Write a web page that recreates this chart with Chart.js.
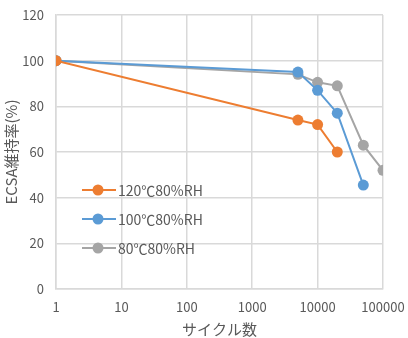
<!DOCTYPE html>
<html>
<head>
<meta charset="utf-8">
<script src="https://cdn.jsdelivr.net/npm/chart.js@4/dist/chart.umd.min.js"></script>
<style>
  html, body { margin: 0; padding: 0; background: #fff; }
  #wrap { width: 408px; height: 338px; }
</style>
</head>
<body>
<div id="wrap"><canvas id="chart" width="408" height="338"></canvas></div>
<script>
const seriesNames = ['120℃80%RH', '100℃80%RH', '80℃80%RH'];
const cycles120 = [1, 5000, 10000, 20000];
const ecsa120 = [100, 74, 72, 60];
const cycles100 = [1, 5000, 10000, 20000, 50000];
const ecsa100 = [100, 95, 87, 77, 45.5];
const cycles80 = [1, 5000, 10000, 20000, 50000, 100000];
const ecsa80 = [100, 94, 90.5, 89, 63, 52];
const xTicks = [1, 10, 100, 1000, 10000, 100000];

const COLORS = ['#ED7D31', '#5B9BD5', '#A5A5A5'];
const FONT = "'Noto Sans CJK JP', 'Noto Sans', sans-serif";

const toPoints = (xs, ys) => xs.map((x, i) => ({ x, y: ys[i] }));

const makeSet = (label, pts, color) => ({
  label,
  data: pts,
  borderColor: color,
  backgroundColor: color,
  borderWidth: 2,
  pointRadius: 5.5,
  pointHoverRadius: 5.5,
  pointBorderWidth: 0,
});

// legend sits inside the plot area, drawn by hand
const insideLegend = {
  id: 'insideLegend',
  afterDraw(chart) {
    const { ctx, chartArea } = chart;
    const rows = [175, 204, 233];
    ctx.save();
    ctx.font = `14px ${FONT}`;
    ctx.textBaseline = 'middle';
    chart.data.datasets.forEach((ds, i) => {
      const y = chartArea.top + rows[i];
      const x0 = chartArea.left + 26;
      ctx.strokeStyle = ds.borderColor;
      ctx.lineWidth = 2;
      ctx.beginPath();
      ctx.moveTo(x0, y);
      ctx.lineTo(x0 + 34, y);
      ctx.stroke();
      ctx.fillStyle = ds.borderColor;
      ctx.beginPath();
      ctx.arc(x0 + 16, y, 5.5, 0, Math.PI * 2);
      ctx.fill();
      ctx.fillStyle = '#595959';
      ctx.fillText(ds.label, x0 + 36, y + 1);
    });
    ctx.restore();
  },
};

const ctx = document.getElementById('chart').getContext('2d');

new Chart(ctx, {
  type: 'line',
  data: {
    datasets: [
      makeSet(seriesNames[0], toPoints(cycles120, ecsa120), COLORS[0]),
      makeSet(seriesNames[1], toPoints(cycles100, ecsa100), COLORS[1]),
      makeSet(seriesNames[2], toPoints(cycles80, ecsa80), COLORS[2]),
    ],
  },
  options: {
    responsive: false,
    animation: false,
    layout: {
      padding: { left: 2, right: 25, top: 15, bottom: 0 },
    },
    plugins: {
      legend: { display: false },
      tooltip: { enabled: false },
    },
    scales: {
      x: {
        type: 'logarithmic',
        min: 1,
        max: 100000,
        afterBuildTicks(scale) {
          scale.ticks = xTicks.map((v) => ({ value: v }));
        },
        afterFit(scale) {
          scale.height = 49;
          scale.paddingLeft = 0;
          scale.paddingRight = 0;
        },
        ticks: {
          color: '#595959',
          font: { family: FONT, size: 13 },
          padding: 10,
          maxRotation: 0,
          autoSkip: false,
          callback: (v) => String(v),
        },
        grid: { color: '#D9D9D9', lineWidth: 1.5, drawTicks: false },
        border: { color: '#D9D9D9', width: 1.5 },
        title: {
          display: true,
          text: 'サイクル数',
          color: '#595959',
          font: { family: FONT, size: 15 },
          padding: { top: 2, bottom: 0 },
        },
      },
      y: {
        min: 0,
        max: 120,
        afterFit(scale) {
          scale.width = 54;
          scale.paddingTop = 0;
          scale.paddingBottom = 0;
        },
        ticks: {
          stepSize: 20,
          color: '#595959',
          font: { family: FONT, size: 13 },
          padding: 12,
        },
        grid: { color: '#D9D9D9', lineWidth: 1.5, drawTicks: false },
        border: { color: '#D9D9D9', width: 1.5 },
        title: {
          display: true,
          text: 'ECSA維持率(%)',
          color: '#595959',
          font: { family: FONT, size: 15 },
          padding: { top: 0, bottom: 0 },
        },
      },
    },
  },
  plugins: [insideLegend],
});
</script>
</body>
</html>
